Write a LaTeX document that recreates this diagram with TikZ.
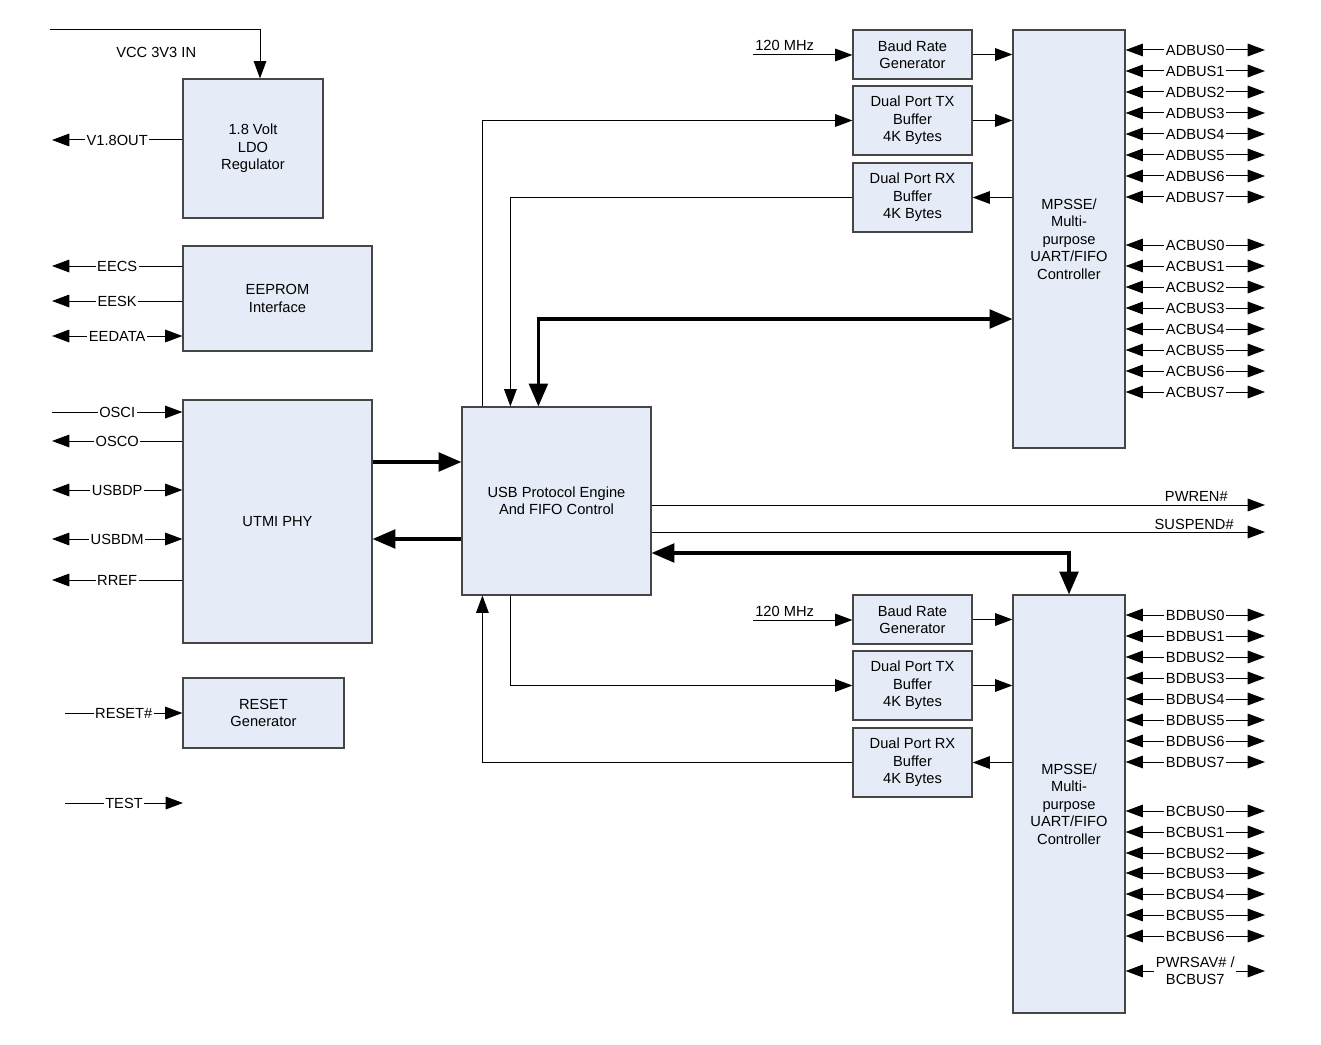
\documentclass[tikz,border=0pt]{standalone}
\usepackage{fontspec}
\setmainfont{Liberation Sans}
\usetikzlibrary{arrows.meta,calc}
\definecolor{boxfill}{RGB}{230,236,247}
\definecolor{boxdraw}{RGB}{70,70,70}
\begin{document}
\begin{tikzpicture}[x=0.75pt,y=-0.75pt,
  font=\fontsize{11}{13.1}\selectfont,
  blk/.style={draw=boxdraw,line width=0.9pt,fill=boxfill,align=center,inner sep=0pt},
  arr/.style={line width=0.75pt,-{Triangle[length=13pt,width=9.5pt]}},
  bi/.style={line width=0.75pt,{Triangle[length=13pt,width=9.5pt]}-{Triangle[length=13pt,width=9.5pt]}},
  plain/.style={line width=0.75pt},
  thk/.style={line width=2.3pt,-{Triangle[length=17pt,width=14pt]}},
  thkbi/.style={line width=2.3pt,{Triangle[length=17pt,width=14pt]}-{Triangle[length=17pt,width=14pt]}},
  lbl/.style={fill=white,inner sep=1.2pt,outer sep=0pt,align=center}]
\useasboundingbox (0,0) rectangle (1321,1045);

% ---- blocks ----
\node[blk,minimum width=105pt,minimum height=104.25pt] (ldo) at (253,148.5) {1.8 Volt\\LDO\\Regulator};
\node[blk,minimum width=141.75pt,minimum height=78.75pt] (eep) at (277.5,298.5) {EEPROM\\Interface};
\node[blk,minimum width=141.75pt,minimum height=182.25pt] (utmi) at (277.5,521.5) {UTMI PHY};
\node[blk,minimum width=120.75pt,minimum height=52.5pt] (rst) at (263.5,713) {RESET\\Generator};
\node[blk,minimum width=141.75pt,minimum height=141pt] (usb) at (556.5,501) {USB Protocol Engine\\And FIFO Control};

\node[blk,minimum width=89.25pt,minimum height=36.75pt] (bauda) at (912.5,54.5) {Baud Rate\\Generator};
\node[blk,minimum width=89.25pt,minimum height=51.75pt] (txa) at (912.5,120.5) {Dual Port TX\\Buffer\\4K Bytes};
\node[blk,minimum width=89.25pt,minimum height=51.75pt] (rxa) at (912.5,197.5) {Dual Port RX\\Buffer\\4K Bytes};
\node[blk,minimum width=84pt,minimum height=313.5pt] (mpa) at (1069,239) {MPSSE/\\Multi-\\purpose\\UART/FIFO\\Controller};

\node[blk,minimum width=89.25pt,minimum height=36.75pt] (baudb) at (912.5,619.5) {Baud Rate\\Generator};
\node[blk,minimum width=89.25pt,minimum height=51.75pt] (txb) at (912.5,685.5) {Dual Port TX\\Buffer\\4K Bytes};
\node[blk,minimum width=89.25pt,minimum height=51.75pt] (rxb) at (912.5,762.5) {Dual Port RX\\Buffer\\4K Bytes};
\node[blk,minimum width=84pt,minimum height=313.5pt] (mpb) at (1069,804) {MPSSE/\\Multi-\\purpose\\UART/FIFO\\Controller};

% ---- helper coordinates ----
\coordinate (vccL) at (50,30);
\coordinate (v18) at (52,140);
\coordinate (eecs) at (52,266);
\coordinate (eesk) at (52,301);
\coordinate (eedata) at (52,336);
\coordinate (osci) at (52,412);
\coordinate (osco) at (52,441);
\coordinate (usbdp) at (52,490);
\coordinate (usbdm) at (52,539);
\coordinate (rref) at (52,580);
\coordinate (resetL) at (65,713);
\coordinate (testL) at (65,803);
\coordinate (testR) at (183,803);
\coordinate (clkA) at (753,55);
\coordinate (clkB) at (753,620);
\coordinate (pw) at (1265,505);
\coordinate (sus) at (1265,532);
\coordinate (r319) at (0,319);
\coordinate (r462) at (0,462);
\coordinate (r539) at (0,539);
\coordinate (r553) at (0,553);

% ---- left side pins ----
\draw[arr] (vccL) -| ([xshift=5.25pt]ldo.north);
\node[anchor=base west,inner sep=0pt] (vcclbl) at (116,58) {VCC 3V3 IN};
\draw[arr] (ldo.west |- v18) -- (v18) node[midway,lbl] (v18l) {V1.8OUT};
\draw[arr] (eep.west |- eecs) -- (eecs) node[midway,lbl] (eecsl) {EECS};
\draw[arr] (eep.west |- eesk) -- (eesk) node[midway,lbl] (eeskl) {EESK};
\draw[bi] (eep.west |- eedata) -- (eedata) node[midway,lbl] (eedatal) {EEDATA};
\draw[arr] (osci) -- (utmi.west |- osci) node[midway,lbl] (oscil) {OSCI};
\draw[arr] (utmi.west |- osco) -- (osco) node[midway,lbl] (oscol) {OSCO};
\draw[bi] (utmi.west |- usbdp) -- (usbdp) node[midway,lbl] (usbdpl) {USBDP};
\draw[bi] (utmi.west |- usbdm) -- (usbdm) node[midway,lbl] (usbdml) {USBDM};
\draw[arr] (utmi.west |- rref) -- (rref) node[midway,lbl] (rrefl) {RREF};
\draw[arr] (resetL) -- (rst.west |- resetL) node[midway,lbl] (resetl) {RESET\#};
\draw[arr] (testL) -- (testR) node[midway,lbl] (testl) {TEST};

% ---- UTMI <-> USB ----
\draw[thk] (utmi.east |- r462) -- (usb.west |- r462);
\draw[thk] (usb.west |- r539) -- (utmi.east |- r539);

% ---- channel A ----
\draw[arr] (clkA) -- (bauda.west |- clkA);
\node[anchor=base west,inner sep=0pt] (clkAl) at (755,51) {120 MHz};
\draw[arr] (bauda.east) -- (mpa.west |- bauda.east);
\draw[arr] (txa.east) -- (mpa.west |- txa.east);
\draw[arr] (mpa.west |- rxa.east) -- (rxa.east);
\draw[arr] ([xshift=15.75pt]usb.north west) |- (txa.west);
\draw[arr] (rxa.west) -| ([xshift=36.75pt]usb.north west);
\draw[thkbi] (mpa.west |- r319) -| ([xshift=57.75pt]usb.north west);

\foreach \y [count=\i from 0] in {50,71,92,113,134,155,176,197} {
  \coordinate (adR\i) at (1265,\y);
  \draw[bi] (mpa.east |- adR\i) -- (adR\i) node[midway,lbl] (adl\i) {ADBUS\i};
}
\foreach \y [count=\i from 0] in {245,266,287,308,329,350,371,392} {
  \coordinate (acR\i) at (1265,\y);
  \draw[bi] (mpa.east |- acR\i) -- (acR\i) node[midway,lbl] (acl\i) {ACBUS\i};
}

% ---- PWREN / SUSPEND ----
\draw[arr] (usb.east |- pw) -- (pw);
\node[anchor=base east,inner sep=0pt] (pwl) at (1228,501) {PWREN\#};
\draw[arr] (usb.east |- sus) -- (sus);
\node[anchor=base east,inner sep=0pt] (susl) at (1234,529) {SUSPEND\#};

% ---- channel B ----
\draw[thkbi] (usb.east |- r553) -| (mpb.north);
\draw[arr] (clkB) -- (baudb.west |- clkB);
\node[anchor=base west,inner sep=0pt] (clkBl) at (755,616) {120 MHz};
\draw[arr] (baudb.east) -- (mpb.west |- baudb.east);
\draw[arr] (txb.east) -- (mpb.west |- txb.east);
\draw[arr] (mpb.west |- rxb.east) -- (rxb.east);
\draw[arr] ([xshift=36.75pt]usb.south west) |- (txb.west);
\draw[arr] (rxb.west) -| ([xshift=15.75pt]usb.south west);

\foreach \y [count=\i from 0] in {615,636,657,678,699,720,741,762} {
  \coordinate (bdR\i) at (1265,\y);
  \draw[bi] (mpb.east |- bdR\i) -- (bdR\i) node[midway,lbl] (bdl\i) {BDBUS\i};
}
\foreach \y [count=\i from 0] in {811,832,853,873,894,915,936} {
  \coordinate (bcR\i) at (1265,\y);
  \draw[bi] (mpb.east |- bcR\i) -- (bcR\i) node[midway,lbl] (bcl\i) {BCBUS\i};
}
\coordinate (bcR7) at (1265,971);
\draw[bi] (mpb.east |- bcR7) -- (bcR7) node[midway,lbl] (bcl7) {PWRSAV\# /\\BCBUS7};
\end{tikzpicture}
\end{document}
